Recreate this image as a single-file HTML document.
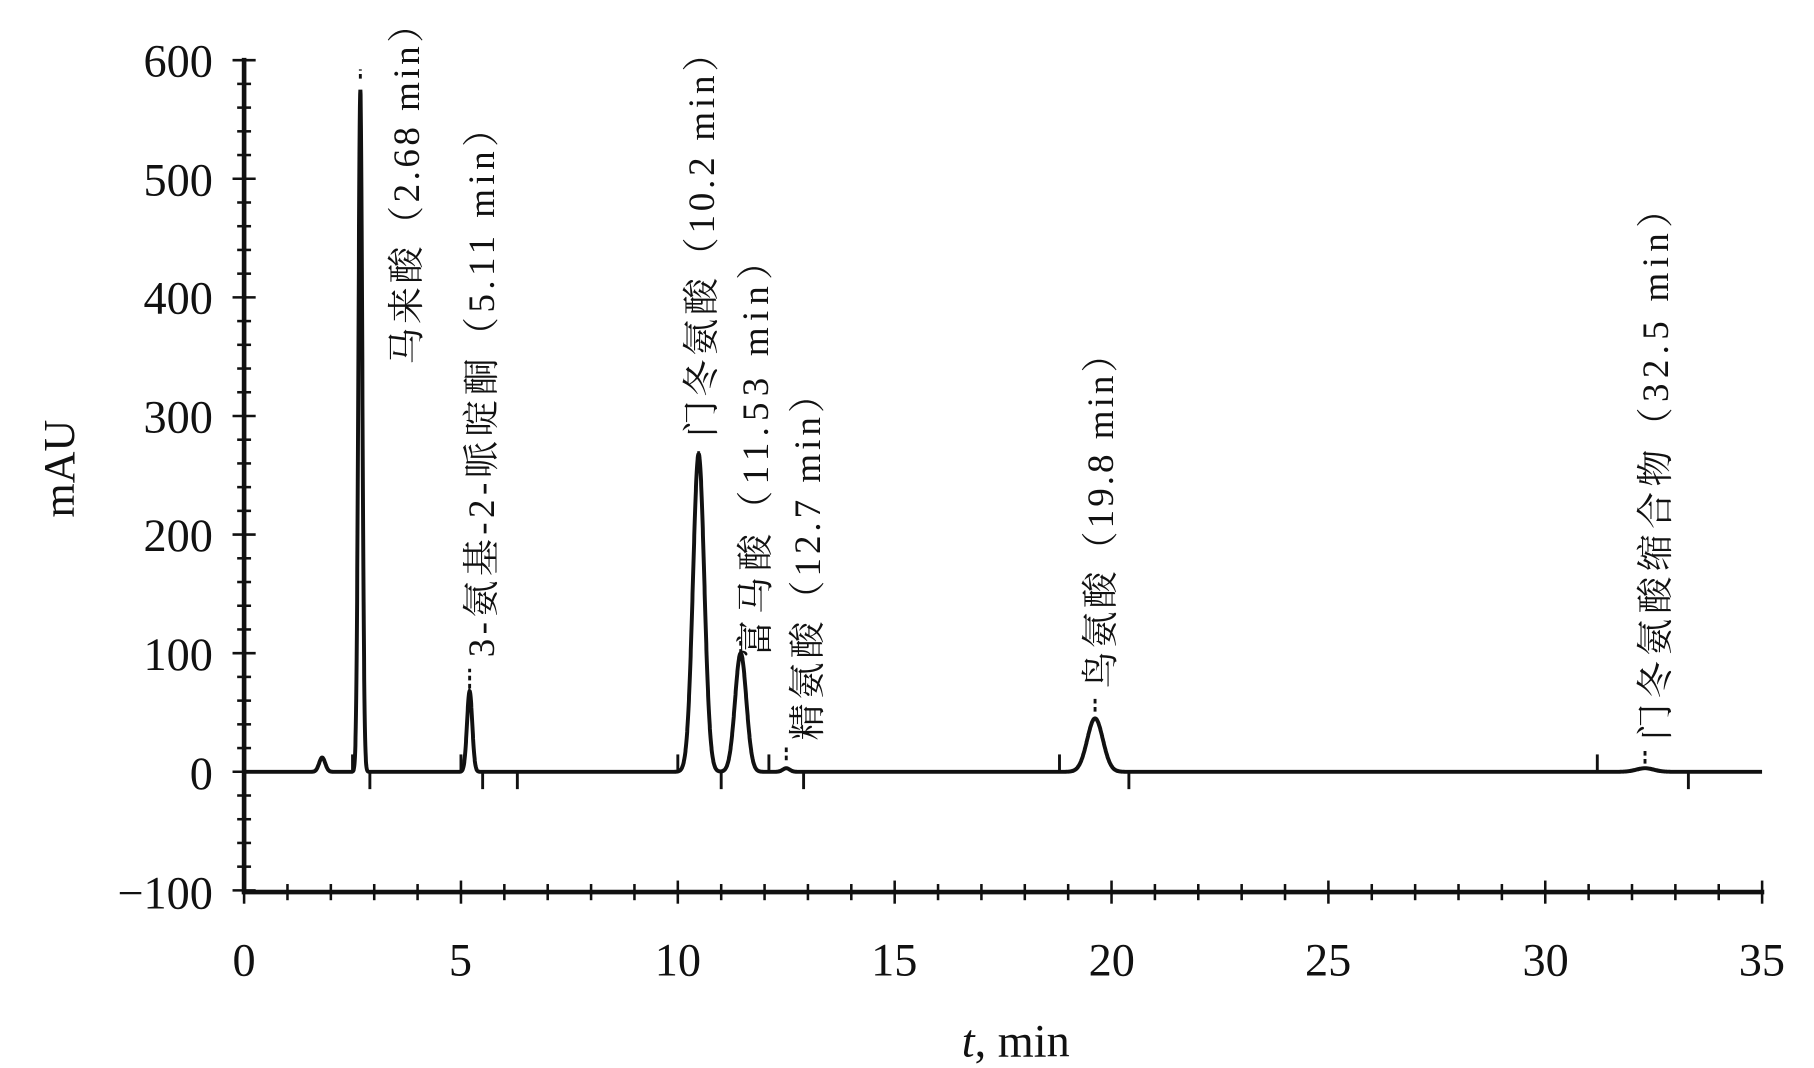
<!DOCTYPE html>
<html><head><meta charset="utf-8"><style>
html,body{margin:0;padding:0;background:#fff;}
svg{display:block}
text{font-family:"Liberation Serif","Noto Serif CJK SC",serif;fill:#111}
</style></head><body>
<svg id="s" width="1814" height="1068" viewBox="0 0 1568 923" preserveAspectRatio="none">
<g id="ax" stroke="#111" stroke-width="4" fill="none">
<line x1="211" y1="50" x2="211" y2="772"/>
<line x1="209" y1="771" x2="1525" y2="771"/>
</g>
<g id="ticks" stroke="#111" stroke-width="2.2"></g>
<g font-size="40" text-anchor="end">
<text x="184" y="66">600</text><text x="184" y="169">500</text><text x="184" y="271">400</text>
<text x="184" y="374">300</text><text x="184" y="476">200</text><text x="184" y="579">100</text>
<text x="184" y="682">0</text><text x="184" y="785">−100</text>
</g>
<g font-size="40" text-anchor="middle">
<text x="211" y="843">0</text><text x="398" y="843">5</text><text x="586" y="843">10</text>
<text x="773" y="843">15</text><text x="961" y="843">20</text><text x="1148" y="843">25</text>
<text x="1336" y="843">30</text><text x="1523" y="843">35</text>
</g>
<text x="878" y="913" font-size="40" text-anchor="middle"><tspan font-style="italic">t</tspan>, min</text>
<text transform="translate(64,405) rotate(-90)" font-size="38" text-anchor="middle" font-family="Liberation Sans">mAU</text>
<path id="curve" stroke="#111" stroke-width="3.4" fill="none"/>
<g id="marks" stroke="#111" stroke-width="2.5"></g>
<g font-size="32" id="labs">
<text transform="translate(362,315) rotate(-90)" textLength="310">马来酸（2.68 min）</text>
<text transform="translate(427,568) rotate(-90)" textLength="473">3-氨基-2-哌啶酮（5.11 min）</text>
<text transform="translate(617,378) rotate(-90)" textLength="348">门冬氨酸（10.2 min）</text>
<text transform="translate(664,568) rotate(-90)" textLength="358">富马酸（11.53 min）</text>
<text transform="translate(709,640) rotate(-90)" textLength="315">精氨酸（12.7 min）</text>
<text transform="translate(962,595) rotate(-90)" textLength="305">鸟氨酸（19.8 min）</text>
<text transform="translate(1442,640) rotate(-90)" textLength="475">门冬氨酸缩合物（32.5 min）</text>
</g>
</svg>
<script>
var X=function(t){return 211+t*37.49},Y=function(v){return 667-v*1.025};
var tk='';
for(var i=0;i<=35;i++){var x=X(i);var L=(i%5==0)?10:7;tk+='<line x1="'+x+'" y1="'+(771-L)+'" x2="'+x+'" y2="'+(771+L)+'"/>';}
for(var v=-100;v<=600;v+=20){var y=Y(v);var L=(v%100==0)?10:6;tk+='<line x1="'+(211-L)+'" y1="'+y+'" x2="'+(211+L)+'" y2="'+y+'"/>';}
document.getElementById('ticks').innerHTML=tk;
var pk=[[1.8,12,0.07],[2.68,575,0.045],[5.2,68,0.06],[10.48,268,0.13],[11.45,100,0.13],[12.5,3,0.08],[19.62,45,0.18],[32.3,3,0.2]];
var d='';
for(var t=0;t<=35;t+=0.005){var v=0;for(var k=0;k<pk.length;k++){var p=pk[k];v+=p[1]*Math.exp(-Math.pow((t-p[0])/p[2],2)/2);}
d+=(d?'L':'M')+X(t).toFixed(1)+' '+Y(v).toFixed(1);}
document.getElementById('curve').setAttribute('d',d);
var m='';
var up=[5.0,10.0,12.1,18.8,31.2,2.5],dn=[2.9,5.5,11.0,12.9,20.4,33.3,6.3];
up.forEach(function(t){m+='<line x1="'+X(t)+'" y1="652" x2="'+X(t)+'" y2="667"/>';});
dn.forEach(function(t){m+='<line x1="'+X(t)+'" y1="667" x2="'+X(t)+'" y2="682"/>';});
var tips=[[2.68,68,60],[5.2,595,578],[10.48,405,390],[11.45,565,551],[12.5,657,645],[19.62,615,603],[32.3,660,648]];
tips.forEach(function(a){m+='<line x1="'+X(a[0])+'" y1="'+a[1]+'" x2="'+X(a[0])+'" y2="'+a[2]+'" stroke-dasharray="4 3"/>';});
document.getElementById('marks').innerHTML=m;
</script>
</body></html>
